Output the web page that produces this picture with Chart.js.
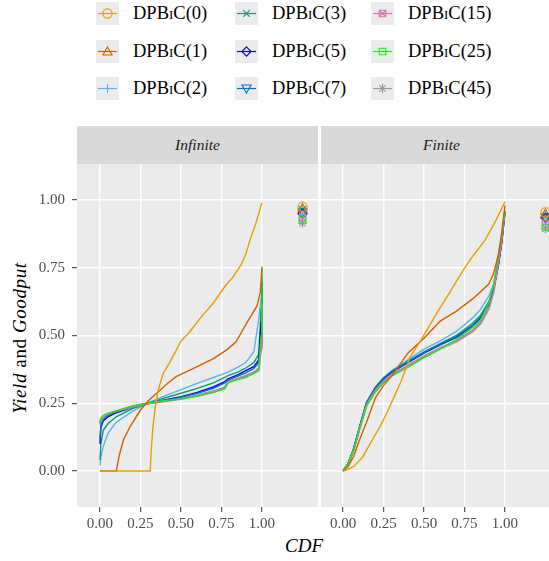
<!DOCTYPE html>
<html>
<head>
<meta charset="utf-8">
<script src="https://cdn.jsdelivr.net/npm/chart.js@4.4.1/dist/chart.umd.min.js"></script>
<style>
  html, body { margin: 0; padding: 0; width: 549px; height: 561px; overflow: hidden; background: #fff; }
  body { position: relative; font-family: "Liberation Serif", "DejaVu Serif", serif; }
  .abs { position: absolute; }
  .key { position: absolute; width: 23px; height: 23px; }
  .lab { position: absolute; font-size: 18.5px; color: #000; line-height: 23px; white-space: nowrap; }
  .sc { font-variant: small-caps; }
  .strip { position: absolute; top: 126px; height: 38px; background: #D9D9D9; color: #1A1A1A;
           font-style: italic; font-size: 15.5px; line-height: 38px; text-align: center; }
  canvas.panel { position: absolute; left: 0; top: 0; }
</style>
</head>
<body>
<div id="legend"></div>
<div class="strip" style="left:77px;width:241px;">Infinite</div>
<div class="strip" style="left:321px;width:241px;">Finite</div>
<div class="abs" style="left:-80px;top:326px;width:200px;height:24px;line-height:24px;text-align:center;font-size:19px;letter-spacing:0.6px;transform:rotate(-90deg);">
  <i>Yield</i> and <i>Goodput</i>
</div>
<div class="abs" style="left:254px;top:535px;width:100px;text-align:center;font-size:19px;font-style:italic;">CDF</div>
<div class="abs" style="left:0;top:164px;width:318px;height:373px;"><canvas id="infChart" class="panel"></canvas></div>
<div class="abs" style="left:321px;top:164px;width:241px;height:373px;"><canvas id="finChart" class="panel"></canvas></div>
<script>
'use strict';

// series
let seriesNames = ['0', '1', '2', '3', '5', '7', '15', '25', '45'];
let seriesColors = ['#E69F00', '#D55E00', '#56B4E9', '#009E73', '#0000FF', '#0072B2', '#CC79A7', '#22E622', '#999999'];
let seriesShapes = ['circle', 'triangle', 'plus', 'x', 'diamond', 'triangleDown', 'squareX', 'square', 'asterisk'];

let xTicks = [0, 0.25, 0.5, 0.75, 1];
let yTicks = [0, 0.25, 0.5, 0.75, 1];

// Infinite panel
let infCdf = [0, 0.005, 0.02, 0.05, 0.1, 0.2, 0.3, 0.4, 0.5, 0.6, 0.7, 0.77, 0.79, 0.85, 0.9, 0.95, 0.98, 0.995, 1.0];
let infCdf0 = [0, 0.31, 0.315, 0.325, 0.34, 0.36, 0.39, 0.43, 0.47, 0.5, 0.55, 0.62, 0.7, 0.77, 0.82, 0.87, 0.9, 0.93, 0.96, 1.0];
let infYield0 = [0, 0, 0.06, 0.15, 0.23, 0.3, 0.36, 0.4, 0.445, 0.48, 0.51, 0.565, 0.62, 0.68, 0.715, 0.76, 0.8, 0.86, 0.91, 0.99];
let infCdf1 = [0, 0.1, 0.12, 0.145, 0.185, 0.25, 0.3, 0.35, 0.42, 0.47, 0.6, 0.7, 0.78, 0.84, 0.9, 0.94, 0.97, 0.99, 1.0];
let infYield1 = [0, 0, 0.06, 0.115, 0.163, 0.225, 0.26, 0.287, 0.325, 0.348, 0.385, 0.415, 0.446, 0.477, 0.54, 0.58, 0.61, 0.66, 0.75];
let infYield2 = [0.02, 0.05, 0.09, 0.14, 0.18, 0.22, 0.252, 0.277, 0.3, 0.323, 0.345, 0.36, 0.365, 0.382, 0.4, 0.44, 0.56, 0.64, 0.66];
let infYield3 = [0.04, 0.1, 0.15, 0.175, 0.2, 0.23, 0.25, 0.27, 0.287, 0.305, 0.325, 0.345, 0.352, 0.365, 0.38, 0.4, 0.43, 0.6, 0.72];
let infYield5 = [0.1, 0.16, 0.185, 0.2, 0.215, 0.235, 0.25, 0.262, 0.274, 0.29, 0.31, 0.33, 0.34, 0.355, 0.37, 0.385, 0.41, 0.55, 0.7];
let infYield7 = [0.12, 0.17, 0.19, 0.205, 0.218, 0.236, 0.25, 0.26, 0.272, 0.287, 0.305, 0.325, 0.335, 0.35, 0.362, 0.378, 0.4, 0.5, 0.68];
let infYield15 = [0.17, 0.19, 0.2, 0.21, 0.22, 0.235, 0.248, 0.257, 0.267, 0.28, 0.295, 0.31, 0.33, 0.342, 0.352, 0.365, 0.38, 0.45, 0.62];
let infYield25 = [0.18, 0.195, 0.205, 0.213, 0.222, 0.24, 0.252, 0.26, 0.266, 0.276, 0.29, 0.303, 0.325, 0.337, 0.345, 0.36, 0.37, 0.5, 0.755];
let infYield45 = [0.175, 0.19, 0.2, 0.21, 0.22, 0.237, 0.25, 0.258, 0.266, 0.278, 0.292, 0.306, 0.328, 0.34, 0.35, 0.362, 0.375, 0.46, 0.6];
let infGoodput = [0.975, 0.97, 0.965, 0.965, 0.95, 0.955, 0.935, 0.925, 0.915];

// Finite panel
let finCdf = [0, 0.03, 0.065, 0.105, 0.145, 0.2, 0.25, 0.3, 0.4, 0.5, 0.6, 0.7, 0.8, 0.85, 0.9, 0.93, 0.96, 0.98, 1.0];
let finCdf0 = [0, 0.02, 0.064, 0.12, 0.167, 0.22, 0.27, 0.32, 0.362, 0.414, 0.475, 0.578, 0.66, 0.743, 0.81, 0.877, 0.94, 1.0];
let finYield0 = [0, 0.003, 0.016, 0.05, 0.1, 0.155, 0.213, 0.28, 0.336, 0.42, 0.477, 0.582, 0.66, 0.742, 0.8, 0.852, 0.92, 0.994];
let finYield1 = [0, 0.015, 0.053, 0.12, 0.18, 0.27, 0.315, 0.35, 0.435, 0.49, 0.553, 0.59, 0.635, 0.662, 0.69, 0.73, 0.8, 0.88, 0.98];
let finYield2 = [0, 0.025, 0.08, 0.17, 0.255, 0.31, 0.345, 0.37, 0.41, 0.45, 0.48, 0.515, 0.565, 0.597, 0.645, 0.69, 0.77, 0.85, 0.96];
let finYield3 = [0, 0.025, 0.08, 0.168, 0.252, 0.308, 0.342, 0.367, 0.405, 0.44, 0.47, 0.5, 0.545, 0.575, 0.625, 0.675, 0.76, 0.845, 0.96];
let finYield5 = [0, 0.025, 0.08, 0.166, 0.25, 0.306, 0.34, 0.364, 0.4, 0.435, 0.465, 0.493, 0.535, 0.565, 0.615, 0.67, 0.765, 0.845, 0.96];
let finYield7 = [0, 0.025, 0.08, 0.167, 0.251, 0.307, 0.341, 0.366, 0.402, 0.437, 0.467, 0.496, 0.538, 0.568, 0.618, 0.672, 0.765, 0.845, 0.96];
let finYield15 = [0, 0.025, 0.078, 0.164, 0.246, 0.3, 0.333, 0.357, 0.39, 0.425, 0.455, 0.48, 0.52, 0.55, 0.6, 0.66, 0.77, 0.85, 0.96];
let finYield25 = [0, 0.024, 0.076, 0.16, 0.24, 0.292, 0.325, 0.35, 0.382, 0.418, 0.45, 0.485, 0.53, 0.557, 0.62, 0.69, 0.8, 0.87, 0.96];
let finYield45 = [0, 0.024, 0.077, 0.162, 0.243, 0.296, 0.33, 0.354, 0.386, 0.421, 0.452, 0.478, 0.515, 0.545, 0.6, 0.665, 0.775, 0.855, 0.96];
let finGoodput = [0.955, 0.95, 0.945, 0.94, 0.935, 0.935, 0.915, 0.9, 0.895];

let infX = [infCdf0, infCdf1, infCdf, infCdf, infCdf, infCdf, infCdf, infCdf, infCdf];
let infY = [infYield0, infYield1, infYield2, infYield3, infYield5, infYield7, infYield15, infYield25, infYield45];
let finX = [finCdf0, finCdf, finCdf, finCdf, finCdf, finCdf, finCdf, finCdf, finCdf];
let finY = [finYield0, finYield1, finYield2, finYield3, finYield5, finYield7, finYield15, finYield25, finYield45];

const FONT = '"Liberation Serif", "DejaVu Serif", serif';

function drawShape(g, shape, color, m, r) {
  g.strokeStyle = color;
  g.lineWidth = 1.1;
  g.beginPath();
  let d = r * 0.72;
  switch (shape) {
    case 'circle':
      g.arc(m, m, r, 0, 2 * Math.PI);
      break;
    case 'triangle':
      g.moveTo(m, m - r); g.lineTo(m + r, m + r * 0.75); g.lineTo(m - r, m + r * 0.75); g.closePath();
      break;
    case 'triangleDown':
      g.moveTo(m, m + r); g.lineTo(m + r, m - r * 0.75); g.lineTo(m - r, m - r * 0.75); g.closePath();
      break;
    case 'plus':
      g.moveTo(m - r, m); g.lineTo(m + r, m); g.moveTo(m, m - r); g.lineTo(m, m + r);
      break;
    case 'x':
      g.moveTo(m - d, m - d); g.lineTo(m + d, m + d); g.moveTo(m - d, m + d); g.lineTo(m + d, m - d);
      break;
    case 'diamond':
      g.moveTo(m, m - r); g.lineTo(m + r, m); g.lineTo(m, m + r); g.lineTo(m - r, m); g.closePath();
      break;
    case 'square':
      g.rect(m - d, m - d, 2 * d, 2 * d);
      break;
    case 'squareX':
      g.rect(m - d, m - d, 2 * d, 2 * d);
      g.moveTo(m - d, m - d); g.lineTo(m + d, m + d); g.moveTo(m - d, m + d); g.lineTo(m + d, m - d);
      break;
    case 'asterisk':
      g.moveTo(m - r, m); g.lineTo(m + r, m); g.moveTo(m, m - r); g.lineTo(m, m + r);
      g.moveTo(m - d, m - d); g.lineTo(m + d, m + d); g.moveTo(m - d, m + d); g.lineTo(m + d, m - d);
      break;
  }
  g.stroke();
}

function makeMarker(shape, color) {
  let c = document.createElement('canvas');
  c.width = 13; c.height = 13;
  drawShape(c.getContext('2d'), shape, color, 6.5, 4.6);
  return c;
}

let markers = seriesShapes.map((s, i) => makeMarker(s, seriesColors[i]));

// legend, column major like ggplot
let legendDiv = document.getElementById('legend');
let keyLeft = [96, 235, 371];
let labLeft = [133, 272, 408];
let rowTop = [2, 40, 77];
for (let i = 0; i < seriesNames.length; i++) {
  let col = Math.floor(i / 3);
  let row = i % 3;
  let key = document.createElement('canvas');
  key.className = 'key';
  key.width = 23; key.height = 23;
  key.style.left = keyLeft[col] + 'px';
  key.style.top = rowTop[row] + 'px';
  let g = key.getContext('2d');
  g.fillStyle = '#EBEBEB';
  g.fillRect(0, 0, 23, 23);
  g.strokeStyle = seriesColors[i];
  g.lineWidth = 1.2;
  g.beginPath(); g.moveTo(2, 11.5); g.lineTo(21, 11.5); g.stroke();
  g.drawImage(markers[i], 5, 5);
  legendDiv.appendChild(key);
  let lab = document.createElement('div');
  lab.className = 'lab';
  lab.style.left = labLeft[col] + 'px';
  lab.style.top = rowTop[row] + 'px';
  lab.innerHTML = 'DPB<span class="sc">i</span>C(' + seriesNames[i] + ')';
  legendDiv.appendChild(lab);
}

const panelBg = {
  id: 'panelBg',
  beforeDraw(chart) {
    const { ctx, chartArea: a } = chart;
    ctx.save();
    ctx.fillStyle = '#EBEBEB';
    ctx.fillRect(a.left, a.top, a.width, a.height);
    ctx.restore();
  }
};

function noPad(s) {
  s.paddingTop = 0; s.paddingBottom = 0; s.paddingLeft = 0; s.paddingRight = 0;
}

function buildDatasets(xs, ys, goodput) {
  let sets = [];
  for (let i = 0; i < seriesNames.length; i++) {
    let pts = xs[i].map((x, j) => ({ x: x, y: ys[i][j] }));
    pts.push({ x: 1.12, y: null });
    pts.push({ x: 1.25, y: goodput[i] });
    sets.push({
      label: 'DPBIC(' + seriesNames[i] + ')',
      data: pts,
      showLine: true,
      spanGaps: false,
      borderColor: seriesColors[i],
      borderWidth: i === 8 ? 2.2 : 1.4,
      pointStyle: markers[i],
      pointRadius: ctx => (ctx.dataIndex === ctx.dataset.data.length - 1 ? 4 : 0),
      pointHoverRadius: 0,
      order: i === 8 ? 20 : (i < 2 ? 0 : 10 - i)
    });
  }
  return sets;
}

function makePanel(id, xs, ys, goodput, showY, w, xmin, xmax) {
  let canvas = document.getElementById(id);
  canvas.width = w; canvas.height = 373;
  canvas.style.width = w + 'px'; canvas.style.height = '373px';
  return new Chart(canvas, {
    type: 'scatter',
    data: { datasets: buildDatasets(xs, ys, goodput) },
    options: {
      responsive: false,
      animation: false,
      events: [],
      layout: { padding: 0, autoPadding: false },
      plugins: { legend: { display: false }, tooltip: { enabled: false } },
      scales: {
        x: {
          type: 'linear', min: xmin, max: xmax,
          afterBuildTicks: s => { s.ticks = xTicks.map(v => ({ value: v })); },
          afterFit: s => { s.height = 30; noPad(s); },
          border: { display: false },
          grid: { color: '#FFFFFF', lineWidth: 1.4, tickColor: '#333333', tickLength: 5, tickWidth: 1 },
          ticks: { color: '#4D4D4D', font: { family: FONT, size: 15 }, padding: 3, maxRotation: 0,
                   callback: v => v.toFixed(2) }
        },
        y: {
          type: 'linear', min: -0.133, max: 1.133,
          afterBuildTicks: s => { s.ticks = yTicks.map(v => ({ value: v })); },
          afterFit: s => { s.width = showY ? 77 : 0; noPad(s); },
          border: { display: false },
          grid: { color: '#FFFFFF', lineWidth: 1.4, tickColor: '#333333', tickLength: 5, tickWidth: 1, drawTicks: showY },
          ticks: { display: showY, color: '#4D4D4D', font: { family: FONT, size: 15 }, padding: 7,
                   callback: v => v.toFixed(2) }
        }
      }
    },
    plugins: [panelBg]
  });
}

makePanel('infChart', infX, infY, infGoodput, true, 318, -0.142, 1.346);
makePanel('finChart', finX, finY, finGoodput, false, 241, -0.136, 1.352);
</script>
</body>
</html>
